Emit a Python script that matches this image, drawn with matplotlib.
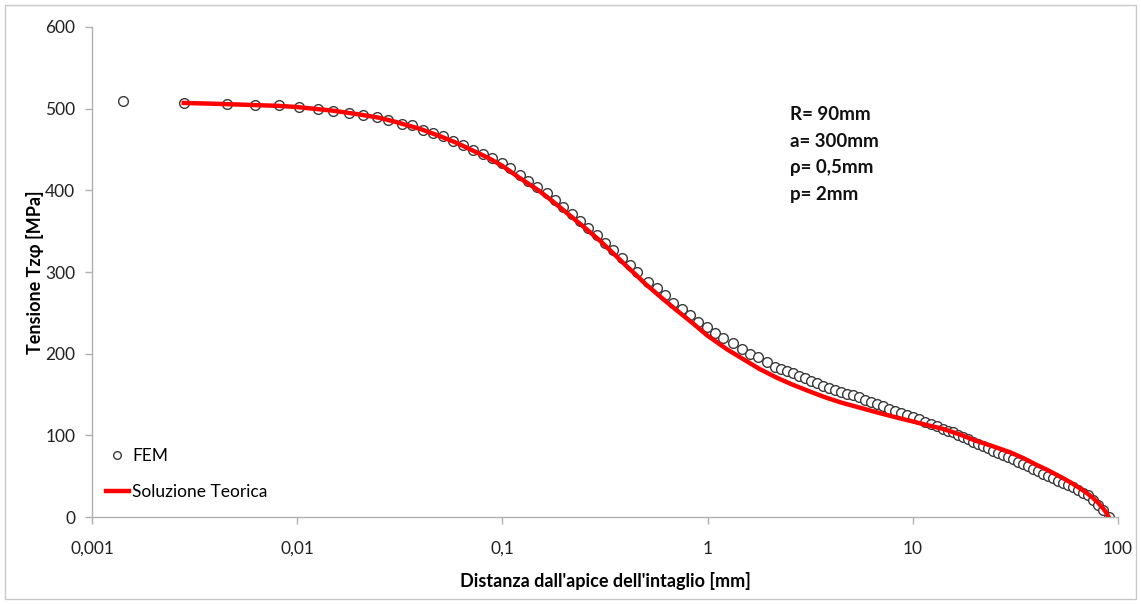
import matplotlib
matplotlib.use("Agg")
import matplotlib.pyplot as plt
from matplotlib.patches import Rectangle
from matplotlib.ticker import FixedLocator, FixedFormatter, NullLocator

plt.rcParams['font.family'] = ['Lato', 'DejaVu Sans']

# FEM points (distanza [mm], tensione [MPa])
fem_x = [0.00142, 0.00282, 0.00454, 0.00623, 0.00815, 0.0102, 0.0126, 0.0149, 0.0179, 0.0209,
         0.0245, 0.0277, 0.0323, 0.0361, 0.0410, 0.0459, 0.0514, 0.0574, 0.0643, 0.0719,
         0.0804, 0.0889, 0.0995, 0.109, 0.122, 0.133, 0.148, 0.165, 0.180, 0.197,
         0.218, 0.239, 0.261, 0.289, 0.316, 0.346, 0.383, 0.419, 0.453, 0.514,
         0.565, 0.621, 0.681, 0.748, 0.821, 0.902, 0.990, 1.087, 1.194, 1.335,
         1.466, 1.610, 1.767, 1.941, 2.132, 2.279, 2.437, 2.608, 2.789, 2.983,
         3.191, 3.413, 3.651, 3.905, 4.177, 4.468, 4.778, 5.112, 5.467, 5.848,
         6.255, 6.690, 7.157, 7.655, 8.188, 8.759, 9.369, 10.02, 10.72, 11.47,
         12.26, 13.12, 14.03, 14.84, 15.70, 16.61, 17.57, 18.58, 19.65, 20.78,
         21.98, 23.25, 24.59, 26.01, 27.51, 29.10, 30.78, 32.55, 34.43, 36.42,
         38.52, 40.74, 43.09, 45.58, 48.21, 50.99, 53.94, 57.05, 60.34, 63.83,
         67.51, 71.41, 75.53, 79.88, 84.49, 90.0]
fem_y = [509, 507, 506, 505, 504, 502, 499, 497, 495, 492,
         490, 486, 481, 480, 474, 470, 466, 461, 456, 450,
         445, 439, 433, 427, 419, 412, 404, 397, 388, 379,
         371, 362, 354, 345, 335, 327, 317, 308, 300, 288,
         280, 272, 262, 255, 247, 239, 233, 225, 219, 213,
         206, 200, 196, 190, 184, 181.3, 178.7, 176, 173, 170,
         167, 164, 161, 158.2, 155.9, 153.5, 151.1, 148.8, 146.4, 143.7,
         141, 138.3, 135.6, 132.8, 130.1, 127.5, 124.8, 122.2, 119.5, 116.9,
         114.1, 111.2, 108.3, 105.9, 103.5, 101, 98.2, 95.1, 92, 89.4,
         86.7, 84.1, 81.4, 78.8, 76.1, 73.4, 70.5, 67.6, 64.8, 61.9,
         59, 56.2, 52.8, 50.1, 47.4, 44.6, 41.9, 39.2, 37, 33.5,
         30, 26.4, 21.2, 15, 8.8, 0]

# soluzione teorica
teo_x = [0.0028, 0.004, 0.006, 0.008, 0.01, 0.015, 0.02, 0.025, 0.03, 0.04, 0.05, 0.06,
         0.07, 0.085, 0.1, 0.12, 0.15, 0.175, 0.2, 0.25, 0.3, 0.35, 0.4, 0.45, 0.5, 0.6,
         0.7, 0.85, 1, 1.25, 1.5, 1.8, 2.2, 2.6, 3.2, 3.8, 4.5, 5.5, 6.5, 8, 10, 12, 14,
         17, 20, 25, 30, 35, 40, 45, 50, 55, 60, 65, 70, 75, 80, 85, 88, 90]
teo_y = [507, 506, 504.5, 503.5, 502, 497.5, 493, 489, 484, 475, 466, 458,
         450, 440, 430, 416, 400, 387, 375, 355, 338, 322, 308, 296, 285, 268,
         254, 237, 222, 205, 193, 181, 170, 162, 153, 146, 140, 134, 129, 123, 117, 112, 108,
         101, 94, 86, 79, 71.5, 64, 58, 52, 46.5, 41, 35.5, 30, 24, 17.5, 10, 5, 0]

xticks = [0.001, 0.01, 0.1, 1, 10, 100]
xtick_labels = ["0,001", "0,01", "0,1", "1", "10", "100"]
yticks = [0, 100, 200, 300, 400, 500, 600]

params = ["R= 90mm", "a= 300mm", "\u03c1= 0,5mm", "p= 2mm"]

fig = plt.figure(figsize=(11.41, 6.04), dpi=100)
ax = fig.add_axes([0.0806, 0.144, 0.8992, 0.8113])

ax.plot(fem_x, fem_y, linestyle='none', marker='o', markersize=7,
        markerfacecolor='white', markeredgecolor='#3a3a3a', markeredgewidth=1.0,
        label='FEM', zorder=2)
ax.plot(teo_x, teo_y, color='#ff0000', linewidth=3.2, label='Soluzione Teorica', zorder=3)

ax.set_xscale('log')
ax.set_xlim(0.001, 100)
ax.set_ylim(0, 600)
ax.xaxis.set_major_locator(FixedLocator(xticks))
ax.xaxis.set_major_formatter(FixedFormatter(xtick_labels))
ax.xaxis.set_minor_locator(NullLocator())
ax.set_yticks(yticks)

for s in ['top', 'right']:
    ax.spines[s].set_visible(False)
for s in ['left', 'bottom']:
    ax.spines[s].set_color('#b0b0b0')
    ax.spines[s].set_linewidth(1.0)
ax.tick_params(axis='both', which='major', length=5, width=1, color='#b0b0b0',
               labelsize=12.5, labelcolor='#222222', pad=7)
ax.tick_params(axis='x', pad=12)

ax.set_xlabel("Distanza dall'apice dell'intaglio [mm]", fontsize=13, fontweight='bold', labelpad=11)
ax.set_ylabel("Tensione Tz\u03c6 [MPa]", fontsize=13, fontweight='bold', labelpad=1)

ax.text(0.680, 0.838, "\n".join(params), transform=ax.transAxes, fontsize=13.5,
        fontweight='bold', va='top', ha='left', linespacing=1.68, color='#111111')

leg = ax.legend(loc='lower left', bbox_to_anchor=(0.007, 0.02), frameon=False, fontsize=12.5,
                handlelength=1.3, handletextpad=0.2, labelspacing=1.15, borderaxespad=0.0)
leg.legend_handles[0].set_markersize(5.5)

fig.patches.append(Rectangle((0.004, 0.008), 0.992, 0.984, transform=fig.transFigure,
                             fill=False, edgecolor='#c8c8c8', linewidth=1.0))

fig.savefig("out.png", dpi=100)
